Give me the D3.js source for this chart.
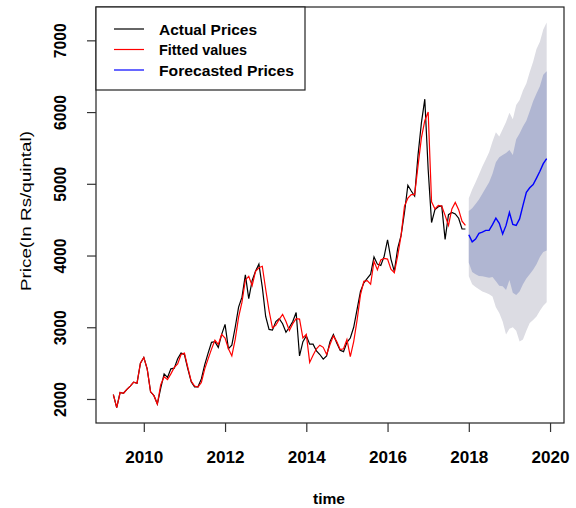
<!DOCTYPE html>
<html>
<head>
<meta charset="utf-8">
<script src="https://cdn.jsdelivr.net/npm/d3@7"></script>
<style>
  body { margin: 0; background: #fff; }
  svg { display: block; }
</style>
</head>
<body>
<script>
// Monthly series: observed prices and in-sample fitted values start April 2009
const actualStart = 2009.25;
const forecastStart = 2018.0;
const monthsPerYear = 12;

const actualPrices = [
  2060, 1880, 2090, 2080, 2135, 2180, 2235, 2220, 2500, 2580,
  2420, 2100, 2046, 1930, 2150, 2350, 2300, 2420, 2430, 2560,
  2640, 2620, 2420, 2240, 2170, 2170, 2280, 2480, 2640, 2790,
  2800, 2720, 2900, 3040, 2700, 2750, 3000, 3280, 3420, 3730,
  3400, 3650, 3780, 3880, 3560, 3150, 2970, 2960, 3080, 3120,
  3050, 2930, 3000, 3080, 3205, 2600, 2800, 2880, 2765, 2765,
  2670, 2620, 2556, 2600, 2800, 2900, 2780, 2680, 2660, 2790,
  2850, 3000, 3250, 3500, 3620, 3680, 3740, 3980, 3880, 3860,
  3990, 4220, 3950, 3780, 4100, 4280, 4600, 4980, 4900, 4830,
  5400, 5850, 6180, 5200, 4460, 4640, 4680, 4690, 4225, 4570,
  4600, 4580, 4520, 4370, 4370
];

const fittedValues = [
  2060, 1880, 2090, 2080, 2135, 2180, 2235, 2220, 2500, 2580,
  2420, 2100, 2046, 1930, 2200, 2310, 2270, 2350, 2440, 2490,
  2620, 2640, 2440, 2250, 2180, 2165, 2230, 2420, 2560, 2695,
  2820, 2760, 2900, 2850, 2700, 2600, 2830, 3140, 3350, 3660,
  3710, 3580, 3780, 3830, 3850, 3530, 3230, 2990, 3030, 3110,
  3180, 3080, 2955, 3050, 3120, 3113, 2850, 2900, 2510, 2610,
  2700, 2750, 2720, 2620, 2760, 2880, 2800, 2690, 2700, 2830,
  2590, 2800, 3100, 3450, 3640, 3650, 3600, 3920, 3800, 3940,
  3960, 3950, 3810, 3760, 4000, 4280, 4690, 4800, 4850, 4850,
  5250, 5640, 5880, 6000, 4750, 4650, 4700, 4690, 4560, 4420,
  4650, 4740, 4640, 4480, 4420
];

// 24-month forecast (Jan 2018 - Dec 2019) with 80% and 95% intervals
const forecastMean = [
  4290, 4190, 4230, 4310, 4325, 4350, 4350, 4430, 4520, 4450,
  4300, 4420, 4600, 4434, 4420, 4510, 4700, 4880, 4944, 4990,
  5080, 5175, 5280, 5350
];
const lower80 = [
  3900, 3770, 3740, 3715, 3710, 3700, 3690, 3700, 3640, 3580,
  3570, 3520, 3660, 3480, 3450, 3500, 3600, 3680, 3740, 3800,
  3880, 3980, 4050, 4070
];
const upper80 = [
  4620, 4660, 4720, 4780, 4860, 4940, 5020, 5140, 5300, 5370,
  5400, 5430, 5470, 5400, 5620, 5700, 5800, 5880, 6010, 6150,
  6260, 6360, 6520, 6570
];
const lower95 = [
  3710, 3600, 3560, 3530, 3500, 3480, 3460, 3430, 3280, 3200,
  3080, 2900, 2980, 3000, 2950, 2800, 2830, 2950, 3060, 3100,
  3150, 3230, 3300, 3350
];
const upper95 = [
  4800, 4920, 5020, 5130, 5240, 5340, 5440, 5590, 5720, 5660,
  5760, 5860, 5990, 5900, 6100, 6170, 6300, 6400, 6560, 6700,
  6880, 6980, 7150, 7250
];

const xTickValues = [2010, 2012, 2014, 2016, 2018, 2020];
const yTickValues = [2000, 3000, 4000, 5000, 6000, 7000];
const legendLabels = ["Actual Prices", "Fitted values", "Forecasted Prices"];
const legendColors = ["#000000", "#ff0000", "#0000ff"];
const legendWidths = [98, 88, 135];

const W = 576, H = 508;
const plot = { left: 96, right: 564, top: 7, bottom: 423 };
const font = "'Liberation Sans', Arial, Helvetica, sans-serif";

const svg = d3.select("body").append("svg")
  .attr("width", W).attr("height", H)
  .attr("viewBox", `0 0 ${W} ${H}`);

const toSeries = (vals, start) => vals.map((v, i) => ({ t: start + i / monthsPerYear, v }));
const actual = toSeries(actualPrices, actualStart);
const fitted = toSeries(fittedValues, actualStart);
const fc = forecastMean.map((v, i) => ({
  t: forecastStart + i / monthsPerYear, v,
  lo80: lower80[i], hi80: upper80[i], lo95: lower95[i], hi95: upper95[i]
}));

// Axis ranges padded by 4% on each side, like base R graphics
const pad = ([a, b]) => { const d = (b - a) * 0.04; return [a - d, b + d]; };
const tExtent = [actualStart, fc[fc.length - 1].t];
const vExtent = [
  d3.min([d3.min(actualPrices), d3.min(fittedValues), d3.min(lower95)]),
  d3.max([d3.max(actualPrices), d3.max(fittedValues), d3.max(upper95)])
];

const x = d3.scaleLinear().domain(pad(tExtent)).range([plot.left, plot.right]);
const y = d3.scaleLinear().domain(pad(vExtent)).range([plot.bottom, plot.top]);

// Prediction interval shading
const band = (lo, hi) => d3.area().x(d => x(d.t)).y0(d => y(d[lo])).y1(d => y(d[hi]));
svg.append("path").datum(fc).attr("d", band("lo95", "hi95")).attr("fill", "#dcdce3");
svg.append("path").datum(fc).attr("d", band("lo80", "hi80")).attr("fill", "#b0b6d2");

const line = d3.line().x(d => x(d.t)).y(d => y(d.v));
svg.append("path").datum(actual).attr("d", line)
  .attr("fill", "none").attr("stroke", "#000").attr("stroke-width", 1.2);
svg.append("path").datum(fitted).attr("d", line)
  .attr("fill", "none").attr("stroke", "#ff0000").attr("stroke-width", 1.2);
svg.append("path").datum(fc).attr("d", line)
  .attr("fill", "none").attr("stroke", "#0000ff").attr("stroke-width", 1.4);

// Plot frame
svg.append("rect")
  .attr("x", plot.left).attr("y", plot.top)
  .attr("width", plot.right - plot.left).attr("height", plot.bottom - plot.top)
  .attr("fill", "none").attr("stroke", "#222").attr("stroke-width", 1.2);

// Bottom axis
const xAxis = svg.append("g")
  .attr("transform", `translate(0,${plot.bottom})`)
  .call(d3.axisBottom(x).tickValues(xTickValues).tickFormat(d3.format("d"))
    .tickSize(9).tickSizeOuter(0));
xAxis.select(".domain").remove();
xAxis.selectAll(".tick line").attr("stroke", "#333").attr("stroke-width", 1.2);
xAxis.selectAll(".tick text")
  .attr("y", 40).attr("dy", 0)
  .attr("font-family", font).attr("font-size", 16).attr("font-weight", "bold")
  .attr("fill", "#000")
  .attr("textLength", 38).attr("lengthAdjust", "spacingAndGlyphs");

// Left axis with labels parallel to the axis
const yAxis = svg.append("g")
  .attr("transform", `translate(${plot.left},0)`)
  .call(d3.axisLeft(y).tickValues(yTickValues).tickFormat(d3.format("d"))
    .tickSize(9).tickSizeOuter(0));
yAxis.select(".domain").remove();
yAxis.selectAll(".tick line").attr("stroke", "#333").attr("stroke-width", 1.2);
yAxis.selectAll(".tick text")
  .attr("x", 0).attr("dy", 0)
  .attr("transform", "translate(-30,0) rotate(-90)")
  .attr("text-anchor", "middle")
  .attr("font-family", font).attr("font-size", 16).attr("font-weight", "bold")
  .attr("fill", "#000")
  .attr("textLength", 35).attr("lengthAdjust", "spacingAndGlyphs");

// Axis titles
svg.append("text")
  .attr("x", 329).attr("y", 504)
  .attr("text-anchor", "middle")
  .attr("font-family", font).attr("font-size", 15).attr("font-weight", "bold")
  .attr("textLength", 32).attr("lengthAdjust", "spacingAndGlyphs")
  .text("time");

svg.append("text")
  .attr("transform", `translate(31,${(plot.top + plot.bottom) / 2 - 4}) rotate(-90)`)
  .attr("text-anchor", "middle")
  .attr("font-family", font).attr("font-size", 15)
  .attr("textLength", 160).attr("lengthAdjust", "spacingAndGlyphs")
  .text("Price(In Rs/quintal)");

// Legend
const legend = svg.append("g");
legend.append("rect")
  .attr("x", plot.left).attr("y", plot.top)
  .attr("width", 209).attr("height", 83)
  .attr("fill", "#fff").attr("stroke", "#222").attr("stroke-width", 1.2);
const rowY = d3.scaleLinear().domain([0, 2]).range([29, 70]);
legendLabels.forEach((label, i) => {
  legend.append("line")
    .attr("x1", 114).attr("x2", 144)
    .attr("y1", rowY(i)).attr("y2", rowY(i))
    .attr("stroke", legendColors[i]).attr("stroke-width", 1.2);
  legend.append("text")
    .attr("x", 159).attr("y", rowY(i) + 5.5)
    .attr("font-family", font).attr("font-size", 15).attr("font-weight", "bold")
    .attr("textLength", legendWidths[i]).attr("lengthAdjust", "spacingAndGlyphs")
    .text(label);
});
</script>
</body>
</html>
